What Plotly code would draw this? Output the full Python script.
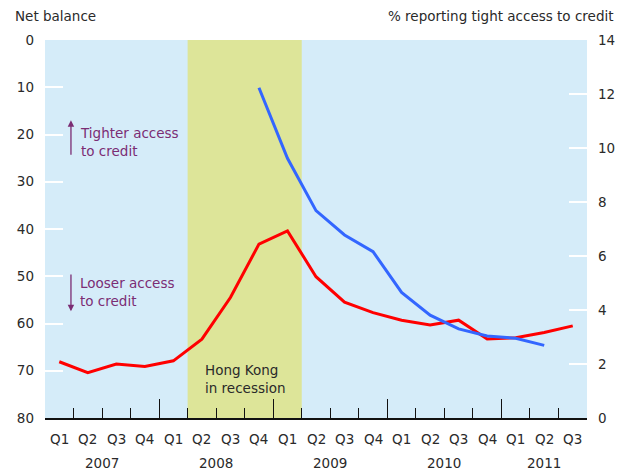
import plotly.graph_objects as go

quarters = ["Q1", "Q2", "Q3", "Q4"] * 4 + ["Q1", "Q2", "Q3"]
years = ["2007"] * 4 + ["2008"] * 4 + ["2009"] * 4 + ["2010"] * 4 + ["2011"] * 3
year_labels = ["2007", "2008", "2009", "2010", "2011"]

# Net balance (left axis, inverted)
net_balance = [68.1, 70.4, 68.6, 69.1, 67.9, 63.3, 54.5, 43.2, 40.4, 50.1,
               55.5, 57.7, 59.3, 60.3, 59.3, 63.3, 63.0, 61.9, 60.5]
# % reporting tight access to credit (right axis)
pct_tight = [None, None, None, None, None, None, None, 12.23, 9.62, 7.68,
             6.78, 6.16, 4.65, 3.81, 3.30, 3.04, 2.95, 2.69, None]

left_ticks = [0, 10, 20, 30, 40, 50, 60, 70, 80]
right_ticks = [0, 2, 4, 6, 8, 10, 12, 14]

recession_first = ("Q2", "2008")
recession_last = ("Q1", "2009")

n = len(quarters)
xs = list(range(n))
keys = list(zip(quarters, years))
rec_start = keys.index(recession_first) - 0.5
rec_end = keys.index(recession_last) + 0.5

boundaries = [i - 0.5 for i in range(n + 1)]
year_starts = [i - 0.5 for i in range(n) if i == 0 or years[i] != years[i - 1]]
year_centers = []
for y in year_labels:
    idx = [i for i in range(n) if years[i] == y]
    year_centers.append((idx[0] + idx[-1]) / 2)

FONT = "DejaVu Sans, Liberation Sans, Arial, sans-serif"
FS = 13.5
TXT = "#2a2a2a"
PURPLE = "#7b2d74"

fig = go.Figure()
fig.add_trace(go.Scatter(x=xs, y=net_balance, mode="lines", xaxis="x", yaxis="y",
                         line=dict(color="#ff0000", width=3), showlegend=False,
                         hoverinfo="skip"))
fig.add_trace(go.Scatter(x=xs, y=pct_tight, mode="lines", xaxis="x", yaxis="y2",
                         line=dict(color="#3366ff", width=3), showlegend=False,
                         hoverinfo="skip"))

fig.add_shape(type="rect", xref="x", yref="paper", x0=rec_start, x1=rec_end,
              y0=0, y1=1, fillcolor="#dde599", line_width=0, layer="below")

# page body has an 8px margin: figure is sized/offset to put the plot at the right place
fig.update_layout(
    width=622, height=462,
    margin=dict(l=37, r=43, t=32, b=52, autoexpand=False),
    paper_bgcolor="white", plot_bgcolor="#d5ecf9",
    font=dict(family=FONT, size=FS, color=TXT),
    xaxis=dict(range=[-0.5, n - 0.5], tickmode="array", tickvals=year_starts,
               ticks="inside", ticklen=19, tickwidth=1.3, tickcolor="#111",
               showticklabels=False, showgrid=False, zeroline=False, showline=True,
               linecolor="#111", linewidth=1.5, automargin=False,
               minor=dict(tickmode="array", tickvals=boundaries, ticks="inside",
                          ticklen=10, tickwidth=1.3, tickcolor="#111", showgrid=False)),
    yaxis=dict(range=[80, 0], tickmode="array", tickvals=left_ticks, ticks="",
               showgrid=False, zeroline=False, showline=False, ticklabelstandoff=10,
               automargin=False,
               minor=dict(tickmode="array", tickvals=left_ticks[1:-1], ticks="inside",
                          ticklen=18, tickwidth=2, tickcolor="white", showgrid=False)),
    yaxis2=dict(range=[0, 14], overlaying="y", side="right", anchor="x",
                tickmode="array", tickvals=right_ticks, ticks="", automargin=False,
                showgrid=False, zeroline=False, showline=False, ticklabelstandoff=10,
                minor=dict(tickmode="array", tickvals=right_ticks[1:-1], ticks="inside",
                           ticklen=18, tickwidth=2, tickcolor="white", showgrid=False)),
)

ann = []
ann.append(dict(text="Net balance", xref="paper", yref="paper", x=0, y=1,
                xanchor="left", yanchor="middle", xshift=-32, yshift=24,
                showarrow=False, font=dict(size=FS, color=TXT)))
ann.append(dict(text="% reporting tight access to credit", xref="paper", yref="paper",
                x=1, y=1, xanchor="right", yanchor="middle", xshift=29, yshift=24,
                showarrow=False, font=dict(size=FS, color=TXT)))
for q, xc in zip(quarters, xs):
    ann.append(dict(text=q, xref="x", yref="paper", x=xc, y=0, yanchor="middle",
                    yshift=-21, showarrow=False, font=dict(size=FS, color=TXT)))
for yl, xc in zip(year_labels, year_centers):
    ann.append(dict(text=yl, xref="x", yref="paper", x=xc, y=0, yanchor="middle",
                    yshift=-45, showarrow=False, font=dict(size=FS, color=TXT)))
# arrows
ann.append(dict(text="", xref="x", yref="y", axref="x", ayref="y",
                x=0.41, y=17.0, ax=0.41, ay=24.6, showarrow=True,
                arrowhead=2, arrowsize=1, arrowwidth=1.3, arrowcolor=PURPLE))
ann.append(dict(text="Tighter access<br>to credit", xref="x", yref="y", x=0.66, y=21.5,
                xanchor="left", yanchor="middle", align="left", showarrow=False,
                font=dict(size=FS, color=PURPLE)))
ann.append(dict(text="", xref="x", yref="y", axref="x", ayref="y",
                x=0.41, y=57.4, ax=0.41, ay=49.3, showarrow=True,
                arrowhead=2, arrowsize=1, arrowwidth=1.3, arrowcolor=PURPLE))
ann.append(dict(text="Looser access<br>to credit", xref="x", yref="y", x=0.66, y=53.4,
                xanchor="left", yanchor="middle", align="left", showarrow=False,
                font=dict(size=FS, color=PURPLE)))
ann.append(dict(text="Hong Kong<br>in recession", xref="x", yref="y", x=rec_start + 0.55,
                y=71.7, xanchor="left", yanchor="middle", align="left", showarrow=False,
                font=dict(size=FS, color=TXT)))
fig.update_layout(annotations=ann)

fig.write_html("out.html")
